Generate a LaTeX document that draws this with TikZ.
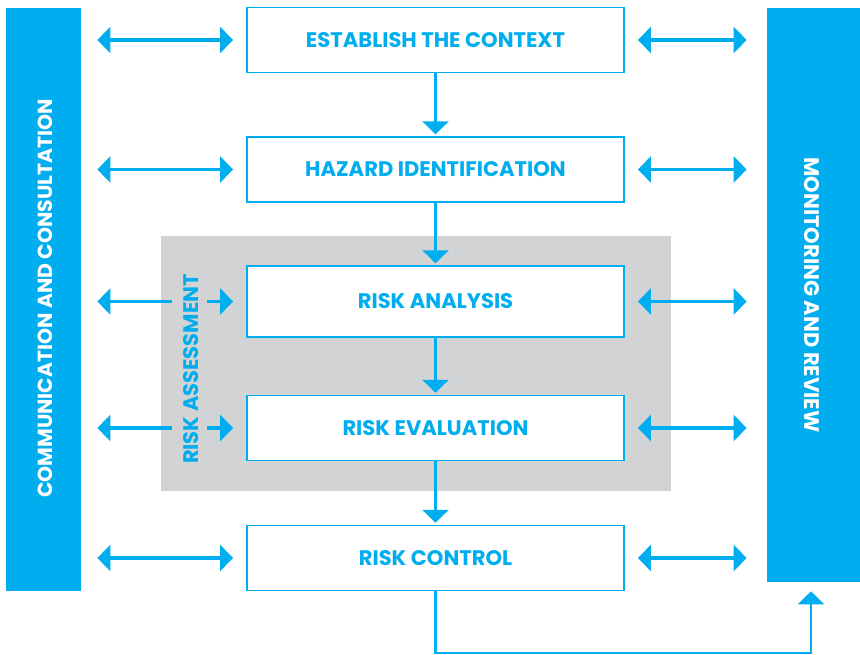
\documentclass[tikz,border=0pt]{standalone}
\usepackage{fontspec}
\setmainfont{Poppins}
\usepackage{tikz}
\usetikzlibrary{positioning, arrows.meta, calc}
\usepackage{xcolor}
\definecolor{riskblue}{HTML}{00AEEF}
\definecolor{riskgray}{HTML}{D1D3D4}

\begin{document}
\begin{tikzpicture}[
    x=0.02cm, y=-0.02cm,
    font=\fontsize{12}{14}\selectfont\bfseries,
    stage/.style={draw=riskblue, line width=1.1pt, fill=white, text=riskblue,
        minimum width=7.54cm, minimum height=1.3cm, inner sep=0pt},
    sidebar/.style={fill=riskblue, draw=none, inner sep=0pt},
    bartext/.style={text=white, inner sep=0pt},
    flow/.style={draw=riskblue, line width=2.2pt,
        -{Triangle[length=7.4pt, width=14.7pt]}},
    link/.style={draw=riskblue, line width=2.2pt,
        {Triangle[length=7.4pt, width=14.7pt]}-{Triangle[length=7.4pt, width=14.7pt]}}
]
    \useasboundingbox (0,0) rectangle (860,655);

    % risk assessment area behind the middle steps
    \node[fill=riskgray, minimum width=10.2cm, minimum height=5.1cm, inner sep=0pt]
        (assess) at (416,363.5) {};
    \node[text=riskblue, rotate=90] (assesslabel) at (191,369) {RISK ASSESSMENT};

    % side bars
    \node[sidebar, minimum width=1.5cm, minimum height=11.66cm] (comm) at (43.5,299.5) {};
    \node[bartext, rotate=90, font=\fontsize{11.6}{14}\selectfont\bfseries]
        at (45,298.5) {COMMUNICATION AND CONSULTATION};
    \node[sidebar, minimum width=1.86cm, minimum height=11.48cm] (monit) at (813.5,295) {};
    \node[bartext, rotate=-90] at (812,295) {MONITORING AND REVIEW};

    % process steps
    \node[stage] (context) at (435.5,40) {ESTABLISH THE CONTEXT};
    \node[stage] (hazard) at (435.5,169.5) {HAZARD IDENTIFICATION};
    \node[stage, minimum height=1.42cm] (analysis) at (435.5,301.5) {RISK ANALYSIS};
    \node[stage] (evaluation) at (435.5,428) {RISK EVALUATION};
    \node[stage] (control) at (435.5,558) {RISK CONTROL};

    \draw[flow, shorten >=1pt] (context) -- (hazard);
    \draw[flow, shorten >=1pt] (hazard) -- (analysis);
    \draw[flow, shorten >=1pt] (analysis) -- (evaluation);
    \draw[flow, shorten >=1pt] (evaluation) -- (control);

    % links to the side bars
    \foreach \s in {context, hazard, control} {
        \draw[link, shorten <=0.32cm, shorten >=0.26cm] (comm.east |- \s) -- (\s.west);
    }
    \foreach \s in {analysis, evaluation} {
        \draw[draw=riskblue, line width=2.2pt, {Triangle[length=7.4pt, width=14.7pt]}-,
            shorten <=0.32cm] (comm.east |- \s) -- (172,0 |- \s);
        \draw[flow, shorten >=0.26cm] (207,0 |- \s) -- (\s.west);
    }
    \foreach \s in {context, hazard, analysis, evaluation, control} {
        \draw[link, shorten <=0.26cm, shorten >=0.4cm] (\s.east) -- (monit.west |- \s);
    }

    % feedback to monitoring
    \coordinate (fb) at (811,653);
    \draw[flow, line width=1.7pt, shorten >=0.18cm] (control.south) |- (fb) -- (fb |- monit.south);
\end{tikzpicture}
\end{document}
